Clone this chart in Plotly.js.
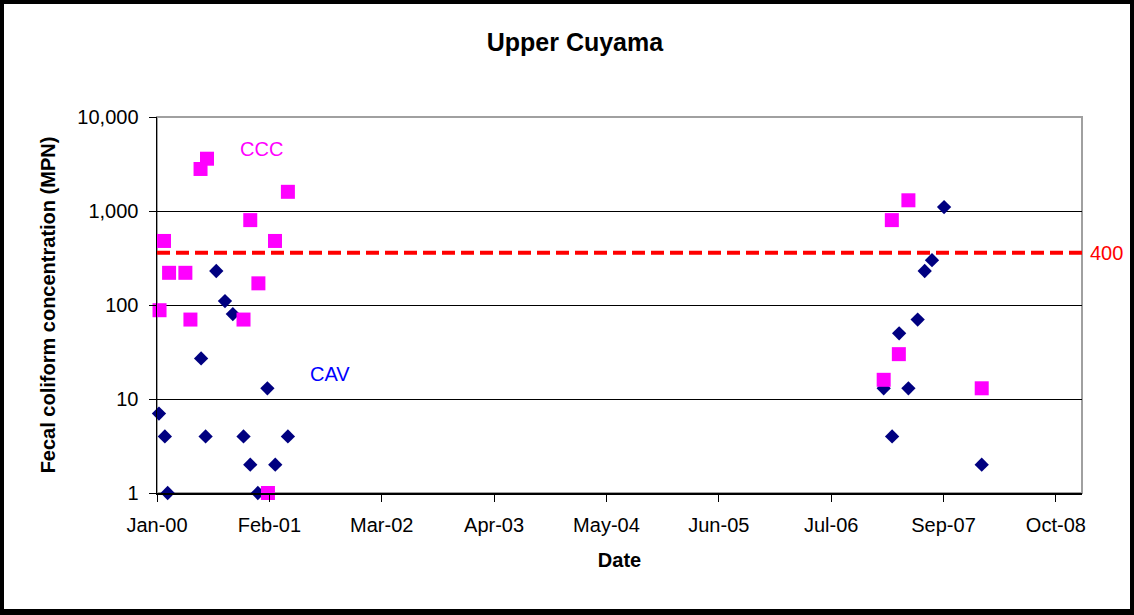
<!DOCTYPE html>
<html>
<head>
<meta charset="utf-8">
<script src="https://cdn.plot.ly/plotly-3.0.1.min.js"></script>
<style>
  html, body { margin: 0; padding: 0; background: #fff; }
  #wrap { position: relative; width: 1134px; height: 615px; }
  #chart { width: 1134px; height: 615px; }
  #frame { position: absolute; left: 0; top: 0; width: 1134px; height: 615px; box-sizing: border-box;
           border-style: solid; border-color: #000; border-width: 4px 4px 6px 4px; pointer-events: none; }
</style>
</head>
<body>
<div id="wrap"><div id="chart"></div><div id="frame"></div></div>
<script>
// ---- data ----
const cavDates = ['2000-01-08','2000-01-29','2000-02-08','2000-06-06','2000-06-22','2000-07-30','2000-08-30','2000-09-27','2000-11-04','2000-11-28','2000-12-25','2001-01-28','2001-02-25','2001-04-11','2007-01-31','2007-03-02','2007-03-27','2007-04-29','2007-06-01','2007-06-26','2007-07-22','2007-09-03','2008-01-15'];
const cavValues = [7, 4, 1, 27, 4, 230, 110, 80, 4, 2, 1, 13, 2, 4, 13, 4, 50, 13, 70, 230, 300, 1100, 2];

const cccDates = ['2000-01-10','2000-01-26','2000-02-13','2000-04-11','2000-04-29','2000-06-04','2000-06-27','2000-11-04','2000-11-28','2000-12-27','2001-01-30','2001-02-24','2001-04-11','2007-01-31','2007-03-01','2007-03-26','2007-04-29','2008-01-15'];
const cccValues = [88, 480, 220, 220, 70, 2800, 3600, 70, 800, 170, 1, 480, 1600, 16, 800, 30, 1300, 13];

const thresholdValue = 360;      // dashed red line as drawn
const thresholdLabel = '400';
const yTickVals = [1, 10, 100, 1000, 10000];
const yTickText = ['1', '10', '100', '1,000', '10,000'];
const xRange = ['2000-01-01', '2009-01-06'];
const xTickStart = '2000-01-01';
const xTickStepDays = 400;
const seriesLabels = ['CAV', 'CCC'];

const FONT = 'Liberation Sans, Arial, sans-serif';

const traces = [
  {
    type: 'scatter', mode: 'markers', name: seriesLabels[0],
    x: cavDates, y: cavValues, cliponaxis: false,
    marker: { symbol: 'diamond', size: 11, color: '#000080', line: { width: 0 } }
  },
  {
    type: 'scatter', mode: 'markers', name: seriesLabels[1],
    x: cccDates, y: cccValues, cliponaxis: false,
    marker: { symbol: 'square', size: 14, color: '#FF00FF', line: { width: 0 } }
  }
];

const layout = {
  width: 1134, height: 615,
  margin: { l: 157, r: 52, t: 117, b: 122 },
  paper_bgcolor: '#fff', plot_bgcolor: '#fff',
  showlegend: false,
  font: { family: FONT, color: '#000', size: 20 },
  title: {
    text: '<b>Upper Cuyama</b>',
    font: { family: FONT, size: 25, color: '#000' },
    xref: 'container', x: 0.507, xanchor: 'center',
    yref: 'container', y: 0.932, yanchor: 'middle'
  },
  xaxis: {
    type: 'date', range: xRange,
    tick0: xTickStart, dtick: xTickStepDays * 86400000,
    tickformat: '%b-%y',
    ticks: 'outside', ticklen: 7, tickcolor: '#000', tickwidth: 1,
    ticklabelstandoff: 6,
    tickfont: { family: FONT, size: 20, color: '#000' },
    showgrid: false, zeroline: false,
    showline: true, linecolor: '#000', linewidth: 1.5,
    title: { text: '<b>Date</b>', font: { family: FONT, size: 20, color: '#000' }, standoff: 18 }
  },
  yaxis: {
    type: 'log', range: [0, 4],
    tickvals: yTickVals, ticktext: yTickText,
    ticks: 'outside', ticklen: 7, tickcolor: '#000', tickwidth: 1,
    ticklabelstandoff: 6,
    tickfont: { family: FONT, size: 20, color: '#000' },
    showgrid: true, gridcolor: '#000', gridwidth: 1,
    zeroline: false,
    showline: true, linecolor: '#000', linewidth: 1.5,
    title: { text: '<b>Fecal coliform concentration (MPN)</b>', font: { family: FONT, size: 20, color: '#000' }, standoff: 16 }
  },
  shapes: [
    { type: 'rect', xref: 'paper', yref: 'paper', x0: 0, x1: 1, y0: 0, y1: 1,
      line: { color: '#a0a0a0', width: 2 }, layer: 'below' },
    { type: 'line', xref: 'paper', yref: 'y', x0: 0, x1: 1,
      y0: thresholdValue, y1: thresholdValue,
      line: { color: '#FF0000', width: 4, dash: '13px,6px' }, layer: 'above' }
  ],
  annotations: [
    { text: thresholdLabel, xref: 'paper', x: 1, xanchor: 'left', xshift: 6,
      yref: 'y', y: Math.log10(thresholdValue), yanchor: 'middle',
      showarrow: false, font: { family: FONT, size: 20, color: '#FF0000' } },
    { text: seriesLabels[1], xref: 'x', x: '2001-01-07', yref: 'y', y: Math.log10(4570),
      xanchor: 'center', yanchor: 'middle', showarrow: false,
      font: { family: FONT, size: 20, color: '#FF00FF' } },
    { text: seriesLabels[0], xref: 'x', x: '2001-09-08', yref: 'y', y: Math.log10(18.5),
      xanchor: 'center', yanchor: 'middle', showarrow: false,
      font: { family: FONT, size: 20, color: '#0000FF' } }
  ]
};

Plotly.newPlot('chart', traces, layout, { displayModeBar: false, staticPlot: true });
</script>
</body>
</html>
